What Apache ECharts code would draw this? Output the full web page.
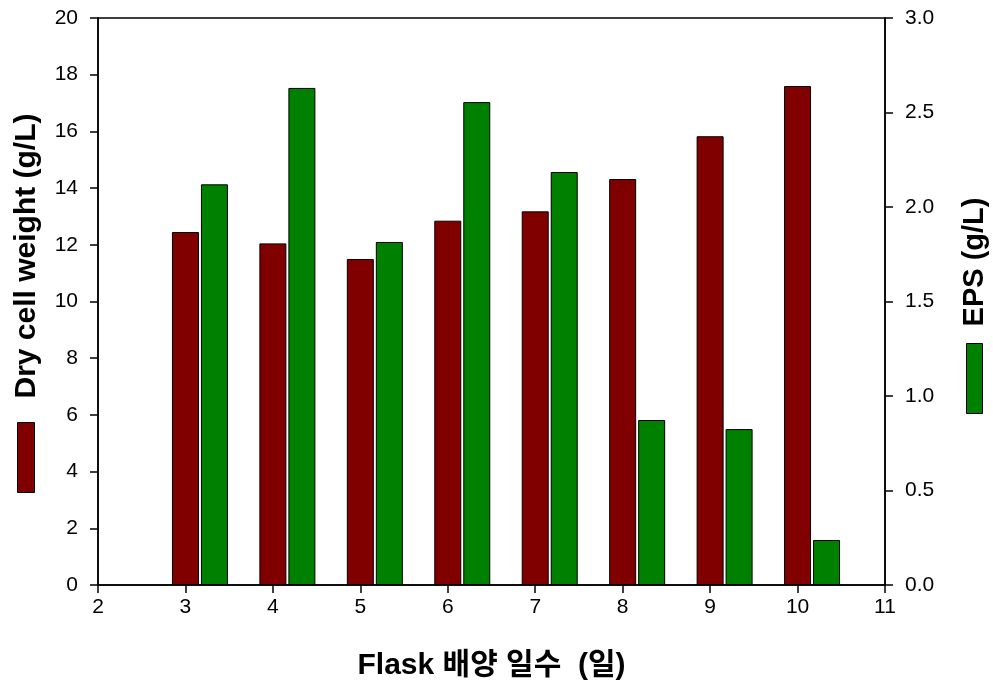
<!DOCTYPE html>
<html>
<head>
<meta charset="utf-8">
<script src="https://cdn.jsdelivr.net/npm/echarts@6/dist/echarts.min.js"></script>
<style>
  html, body { margin: 0; padding: 0; background: #fff; }
  #chart { width: 993px; height: 686px; }
</style>
</head>
<body>
<div id="chart"></div>
<script>
// Culture days in flask
const days = [3, 4, 5, 6, 7, 8, 9, 10];
// Dry cell weight (g/L), left axis
const dcw = [12.45, 12.05, 11.5, 12.85, 13.18, 14.32, 15.83, 17.6];
// EPS (g/L), right axis
const eps = [2.12, 2.63, 1.815, 2.555, 2.185, 0.873, 0.825, 0.238];

const FONT = '"Liberation Sans", Arial, "Noto Sans CJK KR", sans-serif';
const DCW_COLOR = '#800000';
const EPS_COLOR = '#008000';

const chart = echarts.init(document.getElementById('chart'), null, { renderer: 'canvas' });

const axisLine = { show: true, lineStyle: { color: '#000', width: 1.5 } };
const axisTick = { show: true, inside: false, length: 8, lineStyle: { color: '#000', width: 1.5 } };

chart.setOption({
  animation: false,
  backgroundColor: '#fff',
  grid: {
    left: 98, right: 108, top: 18, bottom: 101,
    show: true, borderColor: '#000', borderWidth: 1.5, backgroundColor: 'transparent'
  },
  xAxis: {
    type: 'value', min: 2, max: 11, interval: 1,
    axisLine: axisLine, axisTick: axisTick,
    splitLine: { show: false },
    axisLabel: { color: '#000', fontSize: 21, fontFamily: FONT, margin: 12 },
    name: 'Flask 배양 일수  (일)', nameLocation: 'middle', nameGap: 66,
    nameTextStyle: { color: '#000', fontSize: 30, fontWeight: 'bold', fontFamily: FONT }
  },
  yAxis: [
    {
      type: 'value', min: 0, max: 20, interval: 2, position: 'left',
      axisLine: axisLine, axisTick: axisTick, splitLine: { show: false },
      axisLabel: { color: '#000', fontSize: 21, fontFamily: FONT, margin: 20 }
    },
    {
      type: 'value', min: 0, max: 3, interval: 0.5, position: 'right',
      axisLine: axisLine, axisTick: axisTick, splitLine: { show: false },
      axisLabel: { color: '#000', fontSize: 21, fontFamily: FONT, margin: 20,
        formatter: v => v.toFixed(1) }
    }
  ],
  series: [
    // empty leading slot so the DCW bar sits on the day tick and EPS to its right
    { name: 'slot', type: 'bar', data: [], barWidth: 27, barGap: '7.4%', silent: true },
    {
      name: 'Dry cell weight', type: 'bar', yAxisIndex: 0, barWidth: 27, barGap: '7.4%',
      itemStyle: { color: DCW_COLOR, borderColor: '#000', borderWidth: 1 },
      data: days.map((d, i) => [d, dcw[i]])
    },
    {
      name: 'EPS', type: 'bar', yAxisIndex: 1, barWidth: 27, barGap: '7.4%',
      itemStyle: { color: EPS_COLOR, borderColor: '#000', borderWidth: 1 },
      data: days.map((d, i) => [d, eps[i]])
    }
  ],
  graphic: [
    {
      type: 'text', x: 27, y: 256, rotation: Math.PI / 2,
      style: { text: 'Dry cell weight (g/L)', fill: '#000', font: 'bold 30px ' + FONT,
        align: 'center', verticalAlign: 'middle' }
    },
    {
      type: 'rect', shape: { x: 17.5, y: 422.5, width: 17, height: 70 },
      style: { fill: DCW_COLOR, stroke: '#000', lineWidth: 1 }
    },
    {
      type: 'text', x: 975, y: 262, rotation: Math.PI / 2,
      style: { text: 'EPS (g/L)', fill: '#000', font: 'bold 29px ' + FONT,
        align: 'center', verticalAlign: 'middle' }
    },
    {
      type: 'rect', shape: { x: 966.5, y: 343.5, width: 16, height: 70 },
      style: { fill: EPS_COLOR, stroke: '#000', lineWidth: 1 }
    }
  ]
});
</script>
</body>
</html>
